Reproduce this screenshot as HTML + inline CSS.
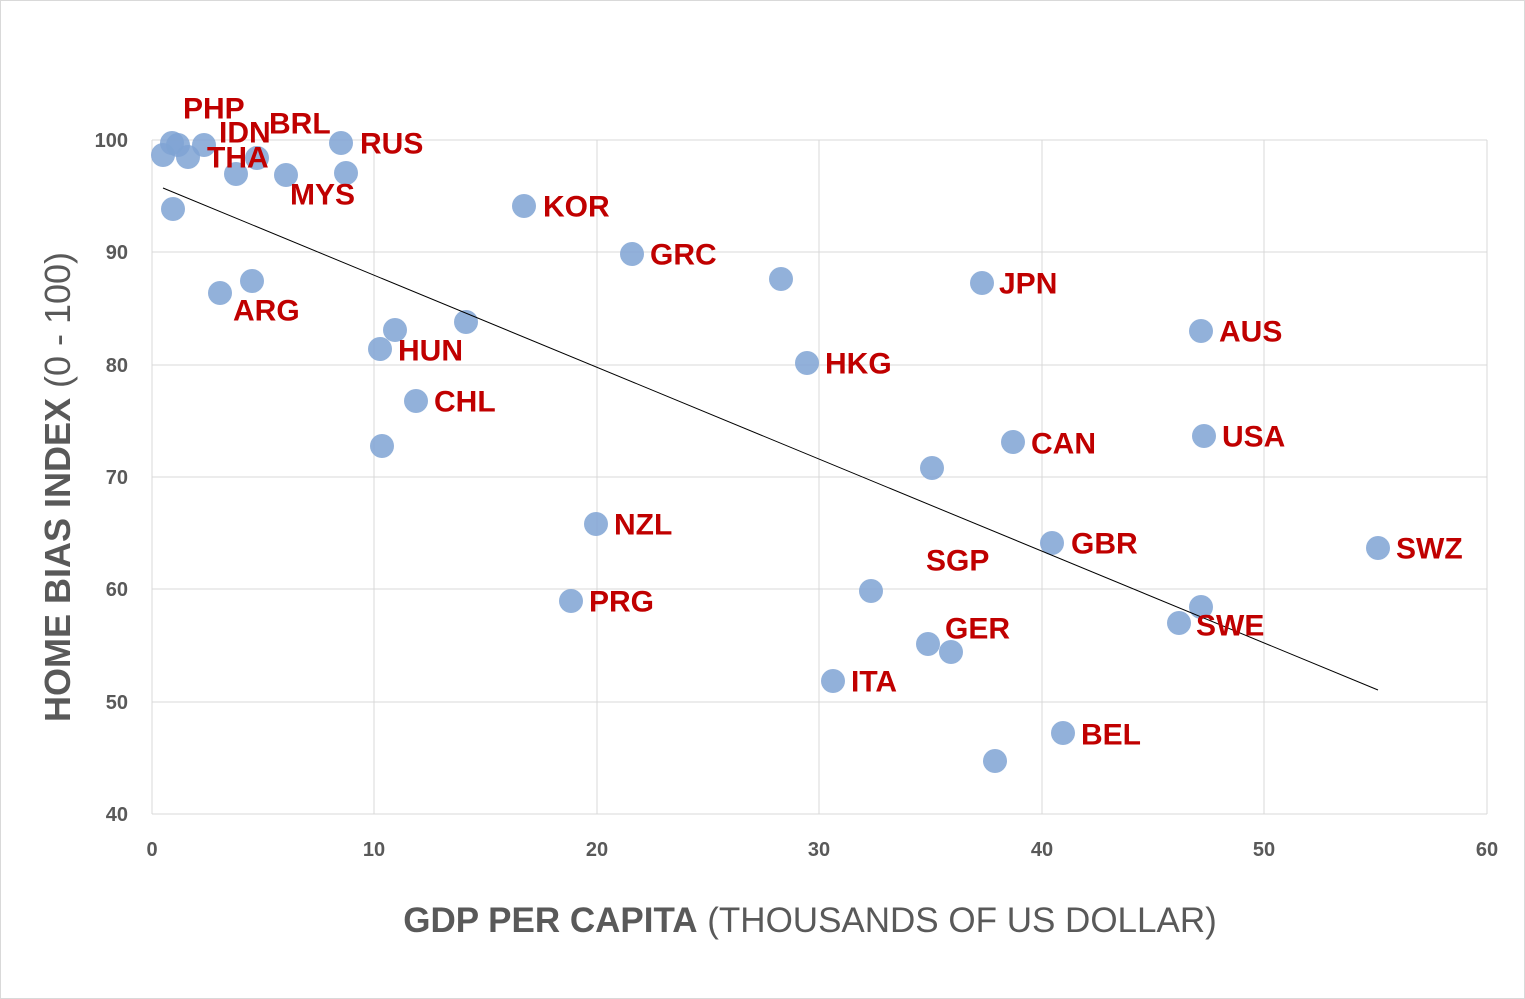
<!DOCTYPE html>
<html><head><style>
html,body{margin:0;padding:0;background:#fff}
</style></head><body>
<svg width="1525" height="999" xmlns="http://www.w3.org/2000/svg" style="display:block;font-family:'Liberation Sans',sans-serif">
<rect x="0.5" y="0.5" width="1524" height="998" fill="#fff" stroke="#d9d9d9"/>
<g stroke="#d9d9d9" stroke-width="1">
<line x1="152" y1="140" x2="1487" y2="140"/><line x1="152" y1="252" x2="1487" y2="252"/><line x1="152" y1="365" x2="1487" y2="365"/><line x1="152" y1="477" x2="1487" y2="477"/><line x1="152" y1="589" x2="1487" y2="589"/><line x1="152" y1="702" x2="1487" y2="702"/><line x1="152" y1="814" x2="1487" y2="814"/>
<line x1="152" y1="140" x2="152" y2="814"/><line x1="374" y1="140" x2="374" y2="814"/><line x1="597" y1="140" x2="597" y2="814"/><line x1="819" y1="140" x2="819" y2="814"/><line x1="1042" y1="140" x2="1042" y2="814"/><line x1="1264" y1="140" x2="1264" y2="814"/><line x1="1487" y1="140" x2="1487" y2="814"/>
</g>
<g font-size="20" font-weight="bold" fill="#595959" text-anchor="end">
<text x="128" y="147">100</text><text x="128" y="259">90</text><text x="128" y="372">80</text><text x="128" y="484">70</text><text x="128" y="596">60</text><text x="128" y="709">50</text><text x="128" y="821">40</text>
</g>
<g font-size="20" font-weight="bold" fill="#595959" text-anchor="middle">
<text x="152" y="856">0</text><text x="374" y="856">10</text><text x="597" y="856">20</text><text x="819" y="856">30</text><text x="1042" y="856">40</text><text x="1264" y="856">50</text><text x="1487" y="856">60</text>
</g>
<g fill="#7fa3d3" fill-opacity="0.85">
<circle cx="163" cy="155" r="12"/><circle cx="172" cy="143" r="12"/><circle cx="178" cy="145" r="12"/><circle cx="188" cy="157" r="12"/><circle cx="204" cy="145" r="12"/><circle cx="236" cy="174" r="12"/><circle cx="257" cy="158" r="12"/><circle cx="286" cy="175" r="12"/><circle cx="341" cy="143" r="12"/><circle cx="346" cy="173" r="12"/><circle cx="173" cy="209" r="12"/><circle cx="220" cy="293" r="12"/><circle cx="252" cy="281" r="12"/><circle cx="380" cy="349" r="12"/><circle cx="395" cy="330" r="12"/><circle cx="466" cy="322" r="12"/><circle cx="416" cy="401" r="12"/><circle cx="382" cy="446" r="12"/><circle cx="524" cy="206" r="12"/><circle cx="632" cy="254" r="12"/><circle cx="781" cy="279" r="12"/><circle cx="807" cy="363" r="12"/><circle cx="982" cy="283" r="12"/><circle cx="1201" cy="331" r="12"/><circle cx="1013" cy="442" r="12"/><circle cx="1204" cy="436" r="12"/><circle cx="932" cy="468" r="12"/><circle cx="596" cy="524" r="12"/><circle cx="571" cy="601" r="12"/><circle cx="871" cy="591" r="12"/><circle cx="1052" cy="543" r="12"/><circle cx="1378" cy="548" r="12"/><circle cx="1201" cy="607" r="12"/><circle cx="1179" cy="623" r="12"/><circle cx="928" cy="644" r="12"/><circle cx="951" cy="652" r="12"/><circle cx="833" cy="681" r="12"/><circle cx="1063" cy="733" r="12"/><circle cx="995" cy="761" r="12"/>
</g>
<line x1="163" y1="188" x2="1378" y2="690" stroke="#000" stroke-width="1"/>
<g font-size="30" font-weight="bold" fill="#c00000" dominant-baseline="central">
<text x="183" y="109">PHP</text><text x="219" y="133">IDN</text><text x="269" y="124">BRL</text><text x="360" y="144">RUS</text><text x="207" y="158">THA</text><text x="290" y="195">MYS</text><text x="543" y="207">KOR</text><text x="650" y="255">GRC</text><text x="233" y="311">ARG</text><text x="398" y="351">HUN</text><text x="434" y="402">CHL</text><text x="999" y="284">JPN</text><text x="825" y="364">HKG</text><text x="1219" y="332">AUS</text><text x="1031" y="444">CAN</text><text x="1222" y="437">USA</text><text x="614" y="525">NZL</text><text x="1071" y="544">GBR</text><text x="926" y="561">SGP</text><text x="1396" y="549">SWZ</text><text x="589" y="602">PRG</text><text x="945" y="629">GER</text><text x="1196" y="626">SWE</text><text x="851" y="682">ITA</text><text x="1081" y="735">BEL</text>
</g>
<text x="810" y="932" text-anchor="middle" font-size="35" fill="#595959"><tspan font-weight="bold">GDP PER CAPITA</tspan> (THOUSANDS OF US DOLLAR)</text>
<text transform="translate(70,487) rotate(-90)" text-anchor="middle" font-size="36" fill="#595959"><tspan font-weight="bold">HOME BIAS INDEX</tspan> (0 - 100)</text>
</svg>
</body></html>
